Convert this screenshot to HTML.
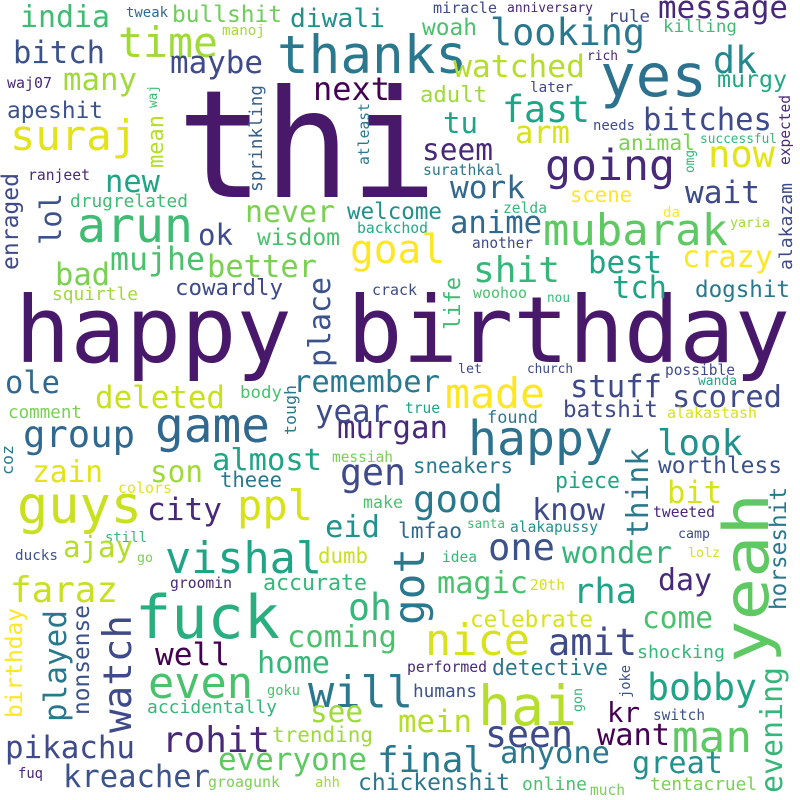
<!DOCTYPE html>
<html><head><meta charset="utf-8"><style>
html,body{margin:0;padding:0;background:#fff;}
svg{display:block;}
text{font-family:"DejaVu Sans Mono","Liberation Mono",monospace;}
</style></head><body>
<svg id="cloud" width="800" height="800" viewBox="0 0 800 800" xmlns="http://www.w3.org/2000/svg">
<rect width="800" height="800" fill="#fff"/>
</svg>
<script>
// [word, x, baselineY, fontSize, color, rotated(0/1), length]
const cloud = [
["thi",177,197,150,"#48186a",0,260],
["happy birthday",15,362,92,"#48186a",0,775],
["yeah",768,663,62,"#5ec962",1,170],
["india",20,27,30,"#3fbc73",0,90],
["tweak",126,17,14,"#31688e",0,42],
["bullshit",172,22,23,"#6ece58",0,110],
["diwali",290,27,26,"#21918c",0,95],
["manoj",222,35,14,"#a5db36",0,43],
["time",118,57,42,"#a0da39",0,100],
["thanks",277,73,53,"#2a788e",0,190],
["bitch",13,63,31,"#3b528b",0,92],
["maybe",170,73,31,"#3e4a89",0,93],
["waj07",7,88,15,"#482878",0,45],
["many",63,90,31,"#a0da39",0,74],
["next",313,100,32,"#440154",0,77],
["apeshit",7,118,23,"#3b528b",0,96],
["waj",157,108,13,"#3fbc73",1,23],
["suraj",10,150,42,"#e2e418",0,127],
["mean",163,168,22,"#b5de2b",1,53],
["sprinkling",262,192,18,"#35608d",1,107],
["atleast",369,165,15,"#2a788e",1,62],
["ranjeet",28,180,15,"#482878",0,62],
["new",105,192,31,"#20a486",0,55],
["enraged",18,270,23,"#3e4a89",1,97],
["lol",61,245,29,"#3b528b",1,52],
["drugrelated",70,207,18,"#3fbc73",0,118],
["arun",77,242,48,"#3fbc73",0,116],
["ok",198,245,29,"#3e4a89",0,35],
["never",245,222,30,"#7ad151",0,90],
["welcome",347,219,23,"#21918c",0,95],
["wisdom",257,245,23,"#4ac16d",0,83],
["backchod",357,233,15,"#22a884",0,71],
["goal",350,263,40,"#fde725",0,95],
["bad",55,285,31,"#7ad151",0,55],
["mujhe",110,270,32,"#4ac16d",0,95],
["better",207,277,31,"#7ad151",0,110],
["cowardly",175,295,22,"#3e4a89",0,108],
["squirtle",52,300,18,"#a0da39",0,86],
["place",330,367,30,"#3b528b",1,90],
["crack",372,295,15,"#3e4a89",0,45],
["ole",5,393,31,"#31688e",0,55],
["remember",293,392,30,"#2a788e",0,147],
["deleted",95,408,31,"#c8e020",0,130],
["body",240,398,17,"#4ac16d",0,42],
["comment",8,418,18,"#7ad151",0,74],
["tough",296,435,16,"#2a788e",1,50],
["miracle",433,13,15,"#3e4a89",0,64],
["anniversary",507,12,13,"#482878",0,86],
["message",658,18,31,"#482878",0,130],
["looking",490,45,37,"#2a788e",0,155],
["rule",608,22,17,"#3e4a89",0,42],
["killing",663,32,17,"#3fbc73",0,74],
["woah",422,35,23,"#4ac16d",0,55],
["yes",600,96,59,"#2c728e",0,107],
["rich",587,60,13,"#482878",0,31],
["dk",713,73,37,"#23898e",0,44],
["watched",453,77,31,"#b5de2b",0,132],
["murgy",717,87,23,"#22a884",0,70],
["later",530,92,14,"#3e4a89",0,43],
["adult",420,102,22,"#a0da39",0,67],
["fast",502,122,37,"#20a486",0,88],
["expected",790,165,15,"#482878",1,70],
["bitches",643,130,31,"#3e4a89",0,129],
["tu",443,133,29,"#20a486",0,35],
["arm",515,143,31,"#d8e219",0,55],
["needs",593,130,14,"#3e4a89",0,42],
["animal",618,150,21,"#7ad151",0,77],
["successful",700,143,13,"#35b779",0,77],
["seem",422,160,30,"#482878",0,71],
["now",708,167,37,"#e2e418",0,67],
["going",545,180,43,"#482878",0,130],
["omg",694,173,13,"#35b779",1,23],
["surathkal",423,175,15,"#2a788e",0,80],
["work",450,198,31,"#31688e",0,75],
["wait",685,203,31,"#3e4a89",0,75],
["scene",570,202,21,"#fde725",0,62],
["alakazam",792,270,18,"#3e4a89",1,87],
["zelda",503,213,15,"#35b779",0,44],
["da",663,217,14,"#fde725",0,17],
["anime",450,233,31,"#31688e",0,92],
["mubarak",543,245,44,"#5ec962",0,185],
["yaria",730,227,13,"#a0da39",0,40],
["another",472,248,15,"#3e4a89",0,61],
["shit",473,282,36,"#35b779",0,87],
["best",588,273,31,"#20a486",0,74],
["crazy",682,267,30,"#fde725",0,91],
["tch",612,298,31,"#20a486",0,55],
["dogshit",695,297,23,"#2a788e",0,95],
["life",460,330,22,"#3fbc73",1,53],
["woohoo",473,298,15,"#4ac16d",0,54],
["nou",547,302,13,"#35b779",0,23],
["let",458,373,13,"#3e4a89",0,24],
["church",527,373,13,"#3e4a89",0,46],
["possible",665,375,15,"#3e4a89",0,70],
["wanda",698,385,13,"#20a486",0,39],
["made",445,408,42,"#fde725",0,100],
["stuff",570,397,31,"#3e4a89",0,92],
["scored",672,407,30,"#3e4a89",0,110],
["batshit",563,417,23,"#3e4a89",0,95],
["true",405,413,15,"#20a486",0,35],
["alakastash",667,418,15,"#d8e219",0,90],
["found",487,423,17,"#2a788e",0,51],
["murgan",337,438,31,"#482878",0,111],
["happy",468,455,48,"#2c728e",0,145],
["look",657,455,36,"#21918c",0,86],
["sneakers",413,473,21,"#2a788e",0,100],
["worthless",658,473,23,"#3b528b",0,124],
["think",648,537,30,"#2a788e",1,89],
["piece",555,488,22,"#20a486",0,65],
["bit",667,503,31,"#d8e219",0,55],
["good",413,512,37,"#2a788e",0,90],
["know",532,520,30,"#3e4a89",0,73],
["horseshit",786,610,23,"#2a788e",1,123],
["tweeted",653,517,15,"#482878",0,62],
["lmfao",398,538,21,"#31688e",0,64],
["santa",467,528,13,"#3fbc73",0,38],
["alakapussy",510,532,15,"#21918c",0,88],
["camp",678,538,13,"#3e4a89",0,32],
["one",488,560,37,"#3b528b",0,67],
["wonder",562,563,30,"#35b779",0,110],
["idea",442,562,15,"#35b779",0,35],
["lolz",688,557,13,"#d8e219",0,32],
["got",424,625,43,"#2a788e",1,77],
["day",658,590,30,"#482878",0,54],
["magic",437,593,30,"#4ac16d",0,91],
["20th",530,590,15,"#d8e219",0,35],
["rha",573,603,35,"#20a486",0,64],
["celebrate",470,627,23,"#d8e219",0,123],
["come",642,628,30,"#4ac16d",0,71],
["nice",425,655,44,"#d8e219",0,105],
["amit",548,655,37,"#3e4a89",0,89],
["shocking",637,658,18,"#35b779",0,88],
["performed",407,672,15,"#482878",0,80],
["detective",492,675,22,"#2a788e",0,116],
["evening",782,793,30,"#35b779",1,126],
["bobby",647,700,37,"#20a486",0,110],
["humans",413,697,18,"#3b528b",0,64],
["joke",630,698,14,"#3b528b",1,33],
["hai",478,725,55,"#b5de2b",0,99],
["gon",582,712,13,"#35b779",1,24],
["kr",607,722,28,"#440154",0,33],
["switch",653,720,15,"#3b528b",0,52],
["mein",398,732,31,"#b5de2b",0,74],
["seen",485,747,37,"#3e4a89",0,88],
["want",597,745,30,"#440154",0,73],
["man",672,752,44,"#5ec962",0,80],
["final",377,772,36,"#2a788e",0,108],
["anyone",500,763,30,"#2a788e",0,110],
["great",632,773,30,"#21918c",0,91],
["chickenshit",358,790,23,"#2a788e",0,152],
["online",522,790,18,"#4ac16d",0,65],
["much",590,795,15,"#7ad151",0,35],
["tentacruel",650,790,18,"#7ad151",0,107],
["game",155,442,48,"#31688e",0,115],
["group",23,447,37,"#31688e",0,112],
["year",315,422,31,"#3e4a89",0,74],
["coz",13,475,16,"#2a788e",1,30],
["zain",32,482,30,"#e2e418",0,71],
["son",150,482,30,"#a0da39",0,53],
["almost",212,470,30,"#20a486",0,110],
["theee",220,487,21,"#2a788e",0,62],
["messiah",332,462,15,"#7ad151",0,61],
["gen",340,485,37,"#3e4a89",0,66],
["colors",118,493,15,"#e2e418",0,54],
["guys",17,523,52,"#c8e020",0,125],
["city",147,520,31,"#482878",0,75],
["ppl",237,520,42,"#d8e219",0,76],
["make",363,508,17,"#4ac16d",0,40],
["eid",325,537,30,"#21918c",0,55],
["still",105,542,14,"#35b779",0,42],
["ducks",15,560,14,"#3b528b",0,43],
["ajay",63,557,29,"#b5de2b",0,70],
["go",137,562,13,"#7ad151",0,16],
["vishal",165,573,44,"#20a486",0,157],
["dumb",318,563,21,"#c8e020",0,50],
["faraz",10,602,36,"#c8e020",0,108],
["groomin",170,588,15,"#482878",0,62],
["accurate",263,590,22,"#35b779",0,104],
["fuck",135,638,60,"#29af7f",0,145],
["oh",348,620,37,"#35b779",0,44],
["coming",287,647,30,"#4ac16d",0,110],
["birthday",22,718,23,"#fde725",1,110],
["played",66,722,31,"#2a788e",1,112],
["nonsense",89,715,23,"#3b528b",1,110],
["watch",131,733,39,"#3e4a89",1,118],
["well",155,665,31,"#440154",0,75],
["home",257,673,30,"#35b779",0,73],
["even",148,698,44,"#4ac16d",0,105],
["will",308,707,44,"#2a788e",0,105],
["goku",267,695,14,"#4ac16d",0,33],
["see",310,722,30,"#a0da39",0,53],
["accidentally",147,713,18,"#35b779",0,130],
["pikachu",5,758,31,"#3e4a89",0,130],
["rohit",162,752,36,"#482878",0,108],
["trending",272,742,21,"#a0da39",0,101],
["everyone",218,770,31,"#5ec962",0,149],
["kreacher",63,787,31,"#3b528b",0,147],
["fuq",18,778,14,"#482878",0,25],
["groagunk",208,787,15,"#7ad151",0,72],
["ahh",315,787,14,"#a0da39",0,25]
];
const svg = document.getElementById('cloud');
const NS = 'http://www.w3.org/2000/svg';
for (const row of cloud) {
  const word = row[0], x = row[1], y = row[2], fs = row[3], col = row[4], rot = row[5], len = row[6];
  const t = document.createElementNS(NS, 'text');
  t.textContent = word;
  t.setAttribute('font-size', fs);
  t.setAttribute('fill', col);
  t.setAttribute('textLength', len);
  t.setAttribute('lengthAdjust', 'spacingAndGlyphs');
  if (rot) {
    t.setAttribute('x', 0); t.setAttribute('y', 0);
    t.setAttribute('transform', 'translate(' + x + ',' + y + ') rotate(-90)');
  } else {
    t.setAttribute('x', x); t.setAttribute('y', y);
  }
  
  
  svg.appendChild(t);
}
</script>
</body></html>
